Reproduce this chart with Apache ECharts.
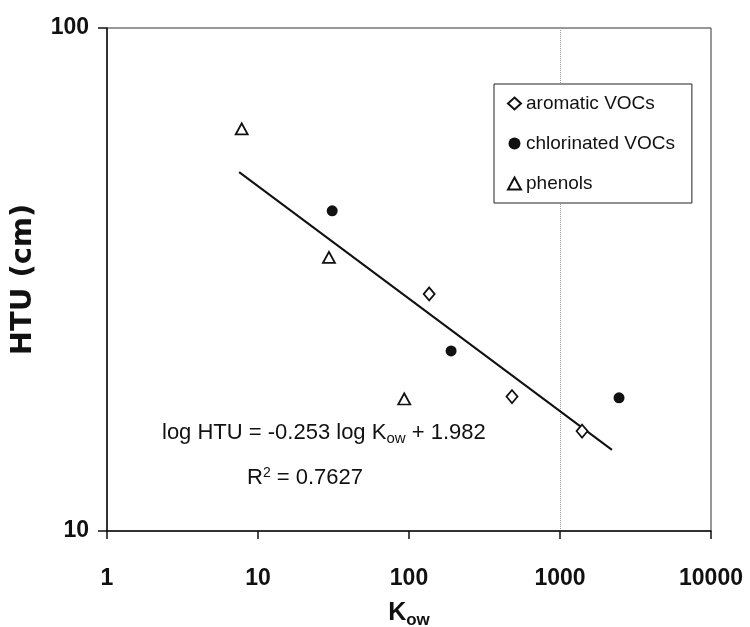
<!DOCTYPE html>
<html>
<head>
<meta charset="utf-8">
<script src="https://cdn.jsdelivr.net/npm/echarts@6/dist/echarts.min.js"></script>
<style>
  html, body { margin: 0; padding: 0; background: #fff; }
  #chart { width: 750px; height: 627px; }
</style>
</head>
<body>
<div id="chart"></div>
<script>
// values (Kow, HTU in cm)
const aromatic = [[136, 29.6], [481, 18.5], [1400, 15.8]]
const chlorinated = [[31, 43.3], [190, 22.8], [2460, 18.4]]
const phenols = [[7.8, 63], [29.5, 35], [93, 18.3]]
// ends of the drawn regression line
const fitLine = [[7.5, 51.7], [2209, 14.5]]
const xTicks = [1, 10, 100, 1000, 10000]
const yTicks = [10, 100]

const font = '"Liberation Sans", Arial, sans-serif'
const openStyle = { color: '#fff', borderColor: '#111', borderWidth: 1.8, opacity: 1 }

const chart = echarts.init(document.getElementById('chart'), null, { renderer: 'canvas' })
chart.setOption({
  animation: false,
  textStyle: { fontFamily: font, color: '#111' },
  grid: {
    left: 107, right: 39, top: 28, bottom: 96,
    outerBoundsMode: 'none', containLabel: false,
    show: true, borderColor: '#333', borderWidth: 1
  },
  legend: {
    orient: 'vertical',
    left: 494, top: 84,
    padding: [10, 17, 10, 13],
    itemGap: 21,
    itemWidth: 13, itemHeight: 12,
    borderColor: '#222', borderWidth: 1,
    backgroundColor: '#fff',
    textStyle: { fontSize: 19, fontFamily: font, color: '#111' },
    data: ['aromatic VOCs', 'chlorinated VOCs', 'phenols']
  },
  xAxis: {
    type: 'log', logBase: 10,
    min: xTicks[0], max: xTicks[xTicks.length - 1],
    name: '{k|K}{s|ow}',
    nameLocation: 'middle', nameGap: 67,
    nameTextStyle: {
      rich: {
        k: { fontSize: 25, fontWeight: 'bold', fontFamily: font, color: '#111' },
        s: { fontSize: 17, fontWeight: 'bold', fontFamily: font, color: '#111', padding: [14, 0, 0, 0] }
      }
    },
    axisLine: { lineStyle: { color: '#111', width: 1.5 } },
    axisTick: { inside: false, length: 8, lineStyle: { color: '#111', width: 1.5 } },
    minorTick: { show: false },
    axisLabel: {
      margin: 36, fontSize: 23, fontWeight: 'bold', fontFamily: font, color: '#111',
      formatter: v => String(v)
    },
    splitLine: {
      show: true,
      // only the 1000 gridline survives in the scan
      lineStyle: { type: 'dotted', width: 1, color: ['rgba(0,0,0,0)', 'rgba(0,0,0,0)', 'rgba(0,0,0,0)', '#999', 'rgba(0,0,0,0)'] }
    }
  },
  yAxis: {
    type: 'log', logBase: 10,
    min: yTicks[0], max: yTicks[yTicks.length - 1],
    name: 'HTU (cm)',
    nameLocation: 'middle', nameGap: 69,
    nameTextStyle: { fontSize: 29, fontWeight: 'bold', fontFamily: '"DejaVu Sans", sans-serif', color: '#111' },
    axisLine: { lineStyle: { color: '#111', width: 1.5 } },
    axisTick: { inside: false, length: 9, lineStyle: { color: '#111', width: 1.5 } },
    axisLabel: {
      margin: 18, fontSize: 23, fontWeight: 'bold', fontFamily: font, color: '#111',
      formatter: v => String(v)
    },
    splitLine: { show: false }
  },
  graphic: [
    {
      type: 'text', left: 162, top: 422,
      style: {
        text: '{n|log HTU = -0.253 log K}{s|ow}{n| + 1.982}',
        rich: {
          n: { fontSize: 22, fontFamily: font, fill: '#111' },
          s: { fontSize: 15, fontFamily: font, fill: '#111', padding: [12, 0, 0, 0] }
        }
      }
    },
    {
      type: 'text', left: 247, top: 466,
      style: {
        text: '{n|R}{p|2}{n| = 0.7627}',
        rich: {
          n: { fontSize: 22, fontFamily: font, fill: '#111' },
          p: { fontSize: 14, fontFamily: font, fill: '#111', padding: [0, 0, 10, 0] }
        }
      }
    }
  ],
  series: [
    {
      name: 'fit', type: 'line', data: fitLine,
      symbol: 'none', silent: true,
      lineStyle: { color: '#111', width: 2 }, z: 1
    },
    {
      name: 'aromatic VOCs', type: 'scatter', data: aromatic,
      symbol: 'diamond', symbolSize: [11, 13], itemStyle: openStyle, z: 3
    },
    {
      name: 'chlorinated VOCs', type: 'scatter', data: chlorinated,
      symbol: 'circle', symbolSize: 11, itemStyle: { color: '#111', opacity: 1 }, z: 3
    },
    {
      name: 'phenols', type: 'scatter', data: phenols,
      symbol: 'triangle', symbolSize: [12, 11], itemStyle: openStyle, z: 3
    }
  ]
})
</script>
</body>
</html>
